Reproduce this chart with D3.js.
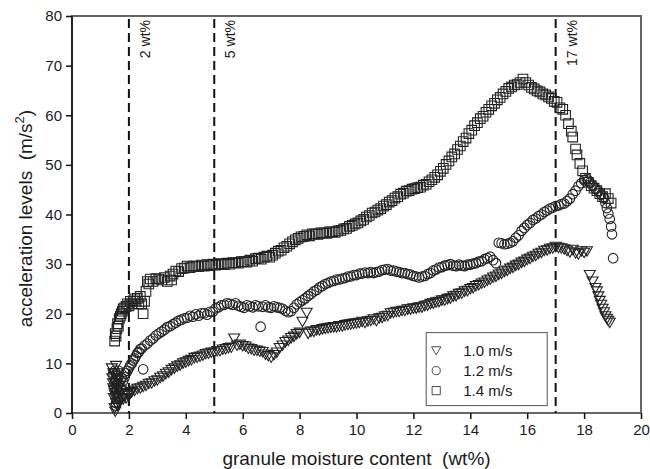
<!DOCTYPE html>
<html>
<head>
<meta charset="utf-8">
<script src="https://cdn.jsdelivr.net/npm/d3@7"></script>
<style>
  body { margin: 0; background: #fff; }
  text { font-family: "Liberation Sans", Arial, sans-serif; fill: #1a1a1a; }
  .title { white-space: pre; }
</style>
</head>
<body>
<div id="chart"></div>
<script>
var width = 650;
var height = 469;

// data: [moisture wt%, acceleration m/s2]
var speed10 = [[1.4,9],[1.42,7],[1.44,6],[1.45,5],[1.45,8],[1.47,3],[1.48,4.5],[1.5,1],[1.5,6],[1.51,7.5],[1.52,0.3],[1.53,3.5],[1.55,2],[1.55,9.5],[1.56,5.5],[1.57,4],[1.58,8],[1.6,1.5],[1.6,7],[1.61,5],[1.62,3],[1.63,6.5],[1.65,5],[1.65,2],[1.67,4],[1.7,2.5],[1.7,6],[1.72,4.5],[1.75,3],[1.8,2.8],[1.85,3.5],[1.9,3],[1.95,3.8],[2.0,3.5],[2.05,4],[2.1,4.2],[2.2,4.5],[2.3,4.9],[2.4,5],[2.5,5.3],[2.6,5.5],[2.7,5.9],[2.8,6],[2.9,6.4],[3.0,6.6],[3.1,7.1],[3.2,7.4],[3.3,7.9],[3.4,8.2],[3.5,8.7],[3.6,9],[3.7,9.4],[3.8,9.6],[3.9,10],[4.0,10.2],[4.1,10.5],[4.2,10.7],[4.3,11.1],[4.4,11.2],[4.5,11.4],[4.6,11.6],[4.7,11.9],[4.8,12],[4.9,12.2],[5.0,12.2],[5.1,12.5],[5.2,12.5],[5.3,12.8],[5.4,12.9],[5.5,13.1],[5.6,13.2],[5.7,15],[5.8,13.6],[5.9,13.8],[6.0,13.5],[6.1,13.4],[6.2,13],[6.3,12.9],[6.4,12.6],[6.5,12.6],[6.6,12.4],[6.7,12.3],[6.8,11.8],[6.9,11.5],[7.0,11.2],[7.1,11.7],[7.2,12.2],[7.3,13.1],[7.4,13.6],[7.5,14.3],[7.6,14.6],[7.7,15.1],[7.8,15.4],[7.9,15.9],[8.0,16.2],[8.1,18.4],[8.25,20.2],[8.3,16],[8.4,16.4],[8.5,16.4],[8.6,16.7],[8.7,16.7],[8.8,16.9],[8.9,17],[9.0,17.1],[9.1,17.2],[9.2,17.3],[9.3,17.3],[9.4,17.5],[9.5,17.5],[9.6,17.7],[9.7,17.8],[9.8,17.9],[9.9,18],[10.0,18.1],[10.1,18.2],[10.2,18.4],[10.3,18.2],[10.4,18.5],[10.5,18.6],[10.6,18.9],[10.7,18.6],[10.8,19.1],[10.9,19.2],[11.0,19.5],[11.1,19.6],[11.2,20.1],[11.3,20.2],[11.4,20.4],[11.5,20.4],[11.6,20.6],[11.7,20.6],[11.8,20.9],[11.9,20.9],[12.0,21.1],[12.1,21.1],[12.2,21.3],[12.3,21.3],[12.4,21.6],[12.5,21.7],[12.6,22],[12.7,22.1],[12.8,22.3],[12.9,22.4],[13.0,22.7],[13.1,22.7],[13.2,23],[13.3,23.1],[13.4,23.5],[13.5,23.6],[13.6,24],[13.7,24.1],[13.8,24.5],[13.9,24.6],[14.0,25],[14.1,25.2],[14.2,25.6],[14.3,25.8],[14.4,26.1],[14.5,26.3],[14.6,26.7],[14.7,26.9],[14.8,27.3],[14.9,27.5],[15.0,27.9],[15.1,28.1],[15.2,28.5],[15.3,28.7],[15.4,29.1],[15.5,29.3],[15.6,29.7],[15.7,29.9],[15.8,30.3],[15.9,30.5],[16.0,30.9],[16.1,31.1],[16.2,31.5],[16.3,31.7],[16.4,32.1],[16.5,32.3],[16.6,32.7],[16.7,32.8],[16.8,33.1],[16.9,33.2],[17.0,33.5],[17.1,33.3],[17.2,33.2],[17.3,33],[17.4,32.7],[17.5,32.4],[17.6,32.9],[17.7,32.2],[17.8,32],[17.9,32.6],[18.0,32.3],[18.1,32.6],[18.2,27.8],[18.3,26.5],[18.4,25.2],[18.45,24.5],[18.5,23.5],[18.55,22.6],[18.6,21.8],[18.65,21],[18.7,20.3],[18.75,19.5],[18.8,19],[18.85,18.6],[18.9,18.2]];

var speed12 = [[1.45,8],[1.47,5],[1.5,8.5],[1.5,6],[1.52,4],[1.53,1.5],[1.55,7],[1.55,2],[1.57,3.5],[1.58,5],[1.6,7.5],[1.62,3],[1.64,8.5],[1.65,6],[1.7,5],[1.75,7],[1.8,6.5],[1.85,7.2],[1.9,8],[1.95,8.5],[2.0,9],[2.05,9.6],[2.1,10],[2.15,10.6],[2.2,11],[2.25,11.5],[2.3,12.1],[2.35,12.3],[2.4,12.9],[2.45,13],[2.5,8.8],[2.55,13.6],[2.65,14],[2.75,14.6],[2.85,15],[2.95,15.6],[3.05,16],[3.15,16.4],[3.25,16.8],[3.35,17.3],[3.45,17.5],[3.55,17.9],[3.65,18.2],[3.75,18.6],[3.85,18.8],[3.95,19.1],[4.05,19.2],[4.15,19.6],[4.25,19.4],[4.35,19.9],[4.45,19.6],[4.55,20.1],[4.65,20.1],[4.75,19.8],[4.85,20.4],[4.95,20.4],[5.05,21.1],[5.15,21.3],[5.25,21.7],[5.35,21.8],[5.45,22.1],[5.55,22],[5.65,21.8],[5.75,22.1],[5.85,21.6],[5.95,21.4],[6.05,21.2],[6.15,21.7],[6.25,21.5],[6.35,21.3],[6.45,21.7],[6.55,21.5],[6.63,17.4],[6.7,21.4],[6.8,21.7],[6.9,21.3],[7.0,21.2],[7.1,21.5],[7.2,21.3],[7.3,21.2],[7.4,21],[7.5,20.6],[7.6,20.3],[7.7,20.5],[7.8,21.2],[7.9,21.9],[8.0,22.3],[8.1,22.7],[8.2,23.1],[8.3,23.6],[8.4,24],[8.5,24.5],[8.6,24.8],[8.7,25.3],[8.8,25.6],[8.9,26],[9.0,26.2],[9.1,26.5],[9.2,26.6],[9.3,26.9],[9.4,26.9],[9.5,27.1],[9.6,27.2],[9.7,27.5],[9.8,27.5],[9.9,27.8],[10.0,27.8],[10.1,28.1],[10.2,28.1],[10.3,28.3],[10.4,28.2],[10.5,28.4],[10.6,28.2],[10.7,28.4],[10.8,28.5],[10.9,28.8],[11.0,28.9],[11.1,29],[11.2,28.7],[11.3,28.7],[11.4,28.5],[11.5,28.4],[11.6,28.2],[11.7,28.2],[11.8,28],[11.9,27.9],[12.0,27.6],[12.1,27.5],[12.2,27.3],[12.3,27.5],[12.4,27.6],[12.5,28],[12.6,28.2],[12.7,28.7],[12.8,28.9],[12.9,29.3],[13.0,29.4],[13.1,29.7],[13.2,29.8],[13.3,30],[13.4,29.7],[13.5,29.6],[13.6,29.9],[13.7,29.7],[13.8,29.6],[13.9,29.9],[14.0,29.9],[14.1,30.1],[14.2,30.2],[14.3,30.5],[14.4,30.6],[14.5,31],[14.6,31.2],[14.7,31.5],[14.8,30.8],[14.9,30.2],[15.0,34.3],[15.1,34.2],[15.2,34],[15.3,34.1],[15.4,34.3],[15.5,34.6],[15.6,35.3],[15.7,35.8],[15.8,36.7],[15.9,37.3],[16.0,37.9],[16.1,38.3],[16.2,38.9],[16.3,39.2],[16.4,39.7],[16.5,40],[16.6,40.5],[16.7,40.8],[16.8,41.2],[16.9,41.4],[17.0,41.7],[17.1,41.8],[17.2,42.1],[17.3,42.2],[17.4,42.7],[17.5,43.2],[17.6,44.1],[17.7,44.8],[17.8,45.7],[17.9,46.3],[18.0,46.9],[18.1,47.2],[18.15,46.8],[18.2,46.4],[18.3,45.9],[18.4,45.2],[18.5,44.7],[18.6,44],[18.7,43.3],[18.75,42.3],[18.8,41.3],[18.85,40.2],[18.9,39.1],[18.95,37.6],[18.98,36],[19.02,31.2]];

var speed14 = [[1.5,14.5],[1.52,16],[1.55,15.5],[1.58,17],[1.6,18],[1.63,17.5],[1.66,19],[1.7,19.5],[1.73,20],[1.77,20.5],[1.8,21],[1.85,21.2],[1.9,21.5],[1.95,22],[2.0,21.6],[2.05,22.5],[2.1,22],[2.15,22.6],[2.2,23],[2.25,22.5],[2.3,23.1],[2.35,22],[2.4,23.5],[2.45,22],[2.5,20],[2.55,22.5],[2.6,24.5],[2.65,26.5],[2.7,26],[2.75,27],[2.85,26.5],[2.95,27.1],[3.05,27],[3.15,26.8],[3.25,27.3],[3.35,26.5],[3.45,27.6],[3.5,26.8],[3.55,28],[3.65,28.6],[3.75,28.5],[3.85,29.1],[3.95,29.2],[4.05,29.6],[4.15,29.3],[4.25,29.6],[4.35,29.6],[4.45,29.5],[4.55,29.8],[4.65,29.6],[4.75,29.9],[4.85,29.7],[4.95,30],[5.05,29.8],[5.15,30.1],[5.25,30],[5.35,29.9],[5.45,30.2],[5.55,30],[5.65,30.3],[5.75,30.3],[5.85,30.2],[5.95,30.5],[6.05,30.5],[6.15,30.4],[6.25,30.8],[6.35,30.6],[6.45,31.1],[6.55,31.2],[6.65,31],[6.75,31.4],[6.85,31.6],[6.95,31.4],[7.05,31.8],[7.15,32.2],[7.25,32.6],[7.35,32.8],[7.45,33.3],[7.55,33.6],[7.65,34.1],[7.75,34.5],[7.85,34.9],[7.95,35.2],[8.05,35.5],[8.15,35.6],[8.25,35.9],[8.35,35.7],[8.45,36.1],[8.55,36.1],[8.65,36],[8.75,36.3],[8.85,36.3],[8.95,36.2],[9.05,36.5],[9.15,36.5],[9.25,36.4],[9.35,36.7],[9.45,36.8],[9.55,37.1],[9.65,37.2],[9.75,37.6],[9.85,37.8],[9.95,38.1],[10.05,38.3],[10.15,38.7],[10.25,39],[10.35,39.5],[10.45,39.8],[10.55,40.3],[10.65,40.5],[10.75,40.9],[10.85,41.2],[10.95,41.7],[11.05,42],[11.15,42.5],[11.25,42.8],[11.35,43.3],[11.45,43.6],[11.55,44.1],[11.65,44.3],[11.75,44.7],[11.85,44.8],[11.95,45.1],[12.05,45.2],[12.15,45.4],[12.25,45.5],[12.35,45.9],[12.45,46.1],[12.55,46.6],[12.65,47],[12.75,47.5],[12.85,48],[12.95,48.7],[13.05,49.3],[13.15,50.1],[13.25,50.8],[13.35,51.6],[13.45,52.2],[13.55,53.1],[13.65,53.8],[13.75,54.7],[13.85,55.4],[13.95,56.3],[14.05,57],[14.15,57.9],[14.25,58.5],[14.35,59.3],[14.45,59.8],[14.55,60.6],[14.65,61.2],[14.75,61.9],[14.85,62.4],[14.95,63.1],[15.05,63.6],[15.15,64.3],[15.25,64.8],[15.35,65.4],[15.45,65.7],[15.55,66.1],[15.65,66.2],[15.75,66.6],[15.85,67.3],[15.95,66.6],[16.05,66.1],[16.15,65.6],[16.25,65.3],[16.35,64.9],[16.45,64.7],[16.55,64.3],[16.65,64.1],[16.75,63.7],[16.85,63.4],[16.95,62.8],[17.05,62.6],[17.15,61.5],[17.25,61.2],[17.35,60],[17.45,58.3],[17.55,56.8],[17.6,55.6],[17.7,53.2],[17.75,52],[17.85,50.3],[17.95,48.8],[18.05,47.3],[18.15,46.5],[18.25,45.8],[18.35,45.3],[18.45,44.8],[18.55,44.2],[18.65,43.6],[18.75,44.2],[18.85,43.2],[18.95,42.3]];

var seriesNames = ["1.0 m/s", "1.2 m/s", "1.4 m/s"];
var seriesShapes = ["triangle", "circle", "square"];
var markerLines = [2, 5, 17];
var markerLabels = ["2 wt%", "5 wt%", "17 wt%"];
var xTicks = [0, 2, 4, 6, 8, 10, 12, 14, 16, 18, 20];
var yTicks = [0, 10, 20, 30, 40, 50, 60, 70, 80];

var margin = {top: 16, right: 9, bottom: 56, left: 72};
var plotW = width - margin.left - margin.right;
var plotH = height - margin.top - margin.bottom;

var svg = d3.select("#chart")
            .append("svg")
            .attr("width", width)
            .attr("height", height);

var g = svg.append("g").attr("transform", "translate(" + margin.left + "," + margin.top + ")");

var x = d3.scaleLinear().domain([0, 20]).range([0, plotW]);
var y = d3.scaleLinear().domain([0, 80]).range([plotH, 0]);

// frame (top / right / bottom in grey)
g.append("rect")
    .attr("x", 0).attr("y", 0)
    .attr("width", plotW).attr("height", plotH)
    .attr("fill", "none")
    .attr("stroke", "#666")
    .attr("stroke-width", 2);

// axes
var xAxis = g.append("g")
    .attr("transform", "translate(0," + plotH + ")")
    .call(d3.axisBottom(x).tickValues(xTicks).tickSize(6).tickPadding(5).tickFormat(d3.format("d")));
var yAxis = g.append("g")
    .call(d3.axisLeft(y).tickValues(yTicks).tickSize(6).tickPadding(4).tickFormat(d3.format("d")));

[xAxis, yAxis].forEach(function(a){
    a.select(".domain").remove();
    a.selectAll(".tick line").attr("stroke", "#111").attr("stroke-width", 1.5);
    a.selectAll(".tick text").style("font-size", "15px").attr("fill", "#1a1a1a")
        .style("font-family", "'Liberation Sans', Arial, sans-serif");
});
g.append("line")
    .attr("x1", 0).attr("x2", 0).attr("y1", 0).attr("y2", plotH)
    .attr("stroke", "#111").attr("stroke-width", 1.5);

// dashed reference lines
g.selectAll(".ref")
    .data(markerLines)
    .join("line")
    .attr("class", "ref")
    .attr("x1", function(d){ return x(d); })
    .attr("x2", function(d){ return x(d); })
    .attr("y1", 3)
    .attr("y2", plotH)
    .attr("stroke", "#111")
    .attr("stroke-width", 2)
    .attr("stroke-dasharray", "9,5");

g.selectAll(".refLabel")
    .data(markerLines)
    .join("text")
    .attr("class", "refLabel")
    .attr("transform", function(d){ return "translate(" + (x(d) + 21) + ",4) rotate(-90)"; })
    .attr("text-anchor", "end")
    .style("font-size", "14px")
    .text(function(d, i){ return markerLabels[i]; });

// marker shapes
function shapePath(shape){
    if(shape == "triangle") return "M-5.5,-4.5L5.5,-4.5L0,5Z";
    if(shape == "square") return "M-4.8,-4.8H4.8V4.8H-4.8Z";
    return d3.symbol().type(d3.symbolCircle).size(72)();
}

var allSeries = [speed10, speed12, speed14];

for(var s=0; s<allSeries.length; s++){
    g.append("g")
        .selectAll("path")
        .data(allSeries[s])
        .join("path")
        .attr("d", shapePath(seriesShapes[s]))
        .attr("transform", function(d){ return "translate(" + x(d[0]) + "," + y(d[1]) + ")"; })
        .attr("fill", "none")
        .attr("stroke", "#222")
        .attr("stroke-width", 1.1);
}

// legend
var legend = g.append("g").attr("transform", "translate(" + (x(12.45)) + "," + (y(16.2)) + ")");
legend.append("rect")
    .attr("width", 121).attr("height", 73)
    .attr("fill", "#fff")
    .attr("stroke", "#555")
    .attr("stroke-width", 1);

var items = legend.selectAll(".item")
    .data(seriesNames)
    .join("g")
    .attr("class", "item")
    .attr("transform", function(d, i){ return "translate(10," + (18 + i * 20) + ")"; });
items.append("path")
    .attr("d", function(d, i){ return shapePath(seriesShapes[i]); })
    .attr("transform", "scale(0.85)")
    .attr("fill", "none")
    .attr("stroke", "#2a2a2a");
items.append("text")
    .attr("x", 27)
    .attr("y", 5)
    .style("font-size", "15px")
    .text(function(d){ return d; });

// axis titles
svg.append("text")
    .attr("class", "title")
    .attr("x", margin.left + plotW / 2)
    .attr("y", 465)
    .attr("text-anchor", "middle")
    .style("font-size", "19px")
    .text("granule moisture content  (wt%)");

var yt = svg.append("text")
    .attr("class", "title")
    .attr("transform", "translate(32," + (margin.top + plotH / 2 + 4) + ") rotate(-90)")
    .attr("text-anchor", "middle")
    .style("font-size", "19px");
yt.append("tspan").text("acceleration levels  (m/s");
yt.append("tspan").attr("dy", -8).style("font-size", "13px").text("2");
yt.append("tspan").attr("dy", 8).text(")");
</script>
</body>
</html>
